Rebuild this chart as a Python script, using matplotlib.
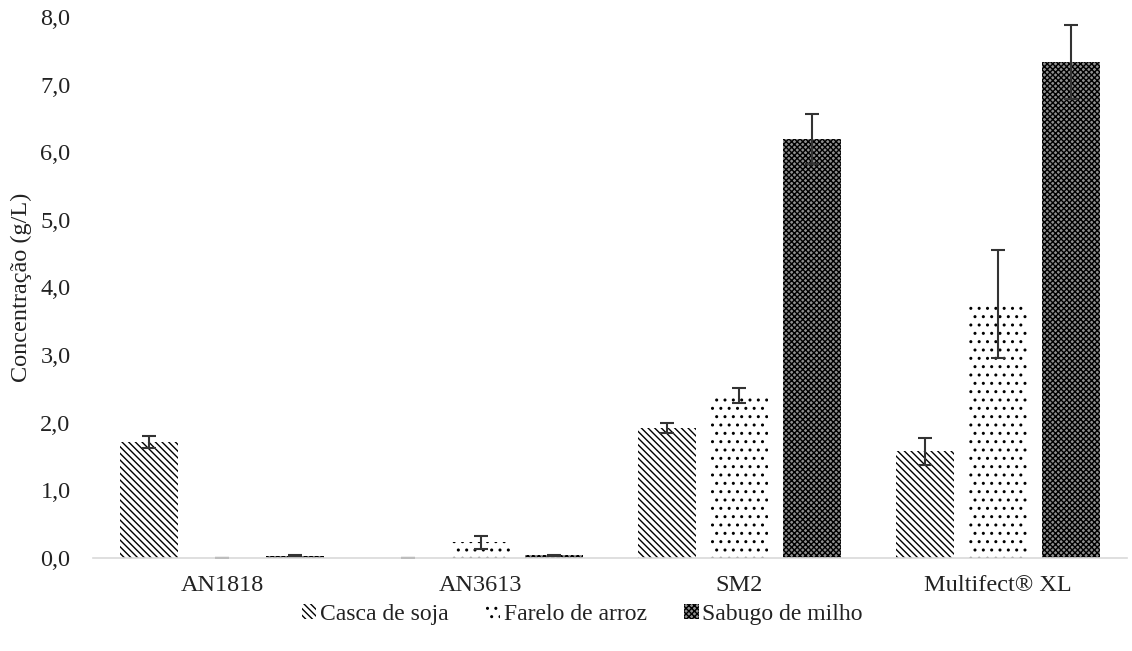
import numpy as np
import matplotlib.pyplot as plt
from matplotlib.ticker import FuncFormatter

plt.rcParams['font.family'] = ['Liberation Serif', 'DejaVu Serif']
plt.rcParams['hatch.linewidth'] = 1.0

# dados
categorias = ["AN1818", "AN3613", "SM2", "Multifect® XL"]
series = ["Casca de soja", "Farelo de arroz", "Sabugo de milho"]
casca = [1.72, 0.0, 1.92, 1.58]
farelo = [0.005, 0.23, 2.40, 3.75]
sabugo = [0.03, 0.04, 6.20, 7.33]
erro_casca = [0.09, 0.0, 0.07, 0.20]
erro_farelo = [0.0, 0.10, 0.11, 0.80]
erro_sabugo = [0.01, 0.01, 0.37, 0.55]

valores = [casca, farelo, sabugo]
erros = [erro_casca, erro_farelo, erro_sabugo]
hachuras = ["\\\\\\\\\\", "..", "xxxxxx"]
fundos = ["white", "white", "#8f8f8f"]

fig = plt.figure(figsize=(11.32, 6.51), dpi=100)
ax = fig.add_axes([0.082, 0.143, 0.914, 0.831])

x = np.arange(len(categorias))
largura = 0.224
passo = 0.282
for i, nome in enumerate(series):
    ax.bar(x + (i - 1) * passo, valores[i], largura, color=fundos[i],
           edgecolor="black", linewidth=0, hatch=hachuras[i], label=nome)
    ax.errorbar(x + (i - 1) * passo, valores[i], yerr=erros[i], fmt="none",
                ecolor="#333333", elinewidth=1.5, capsize=5, capthick=1.5)

ax.set_xlim(-0.5, 3.5)
ax.set_ylim(0, 8)
ax.set_yticks(np.arange(0, 9, 1))
ax.yaxis.set_major_formatter(FuncFormatter(lambda v, p: f"{v:.1f}".replace(".", ",")))
ax.set_xticks(x)
ax.set_xticklabels(categorias)
ax.tick_params(length=0, labelsize=17.5, labelcolor="#222222")
ax.tick_params(axis="x", pad=12)
ax.tick_params(axis="y", pad=16)
for s in ["top", "right", "left"]:
    ax.spines[s].set_visible(False)
ax.spines["bottom"].set_color("#d9d9d9")
ax.spines["bottom"].set_linewidth(1.2)
ax.set_ylabel("Concentração (g/L)", fontsize=17.5, labelpad=6, color="#222222")

ax.legend(loc="upper center", bbox_to_anchor=(0.473, -0.045), ncol=3, frameon=False,
          fontsize=17, handlelength=0.6, handleheight=0.6, handletextpad=0.15,
          columnspacing=1.6, labelcolor="#222222")

fig.savefig("out.png", dpi=100)
